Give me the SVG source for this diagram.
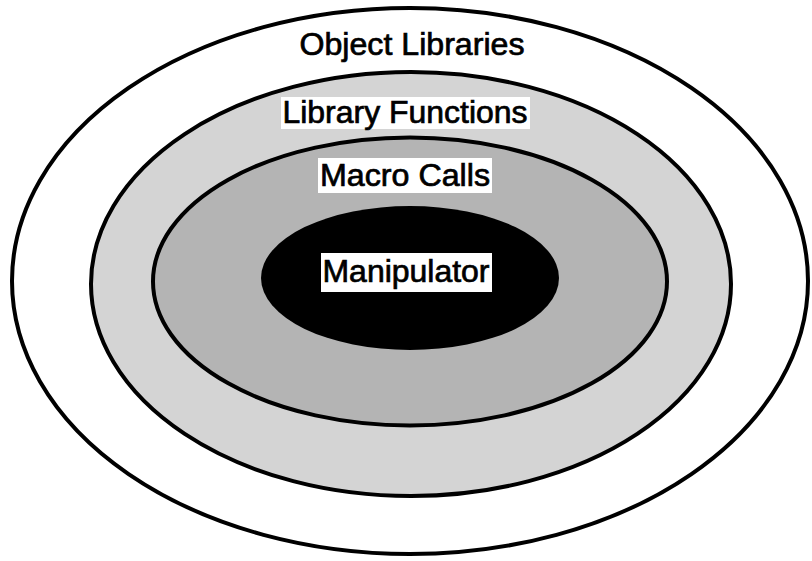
<svg xmlns="http://www.w3.org/2000/svg" width="812" height="561" viewBox="0 0 812 561">
<style>
.ring{stroke:#000;stroke-width:4}
.lbl{font-family:"Liberation Sans",Arial,sans-serif;font-size:31px;fill:#000;stroke:#000;stroke-width:0.7;text-anchor:middle}
.bg{fill:#fff}
</style>
<rect width="812" height="561" fill="#fff"/>
<g id="object-libraries">
<ellipse class="ring" cx="410" cy="281" rx="398" ry="273" fill="#fff" stroke-width="3"/>
<text class="lbl" x="412" y="55" font-size="32.5" textLength="225" lengthAdjust="spacingAndGlyphs">Object Libraries</text>
</g>
<g id="library-functions">
<ellipse class="ring" cx="411" cy="284" rx="320" ry="212" fill="#d4d4d4"/>
<rect class="bg" x="281" y="97" width="249" height="32"/>
<text class="lbl" x="405" y="123" textLength="245" lengthAdjust="spacingAndGlyphs">Library Functions</text>
</g>
<g id="macro-calls">
<ellipse class="ring" cx="410" cy="281.5" rx="257" ry="144" fill="#b4b4b4"/>
<rect class="bg" x="318" y="158" width="174" height="35"/>
<text class="lbl" x="405" y="186" textLength="170" lengthAdjust="spacingAndGlyphs">Macro Calls</text>
</g>
<g id="manipulator">
<ellipse cx="410" cy="278" rx="149" ry="72" fill="#000"/>
<rect class="bg" x="321" y="253" width="171" height="39"/>
<text class="lbl" x="406" y="282" textLength="167" lengthAdjust="spacingAndGlyphs">Manipulator</text>
</g>
<g id="connectors"/>
</svg>
